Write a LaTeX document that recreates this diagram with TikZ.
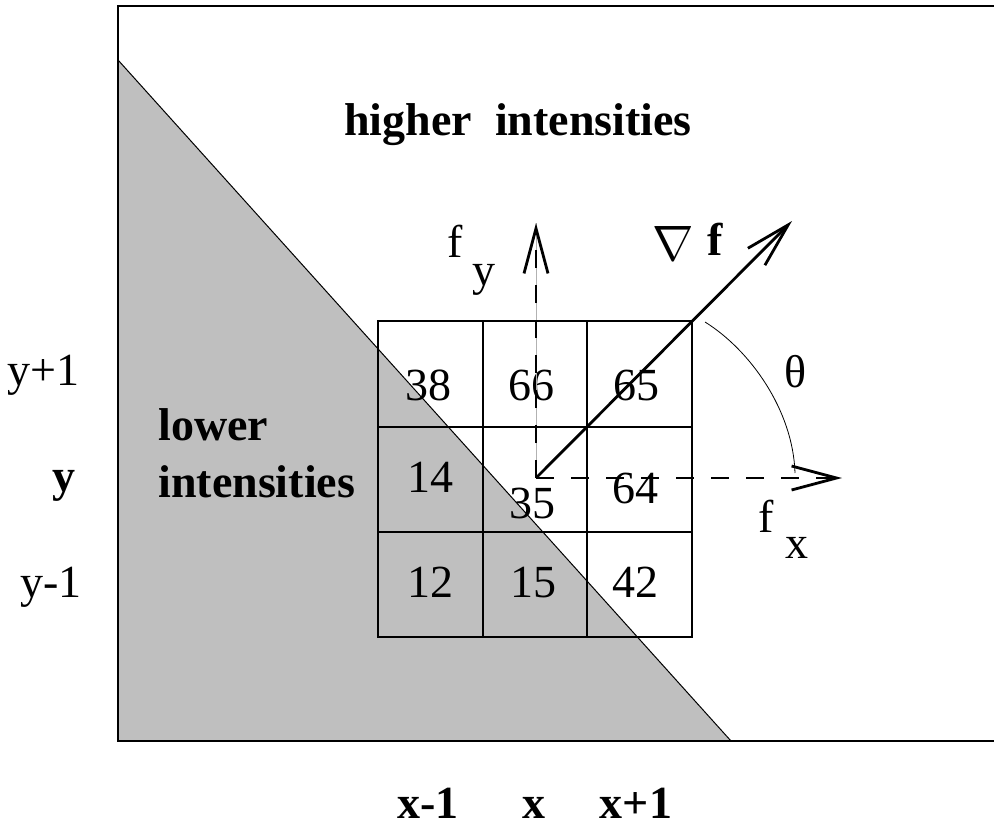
\documentclass[tikz,border=0pt]{standalone}
\usepackage{fontspec}
\setmainfont{Liberation Serif}
\usetikzlibrary{arrows.meta}
\begin{document}
\begin{tikzpicture}[x=0.5pt,y=-0.5pt,
  lbl/.style={inner sep=0pt, font=\fontsize{23}{27}\selectfont},
  blbl/.style={inner sep=0pt, font=\fontsize{23}{27}\selectfont\bfseries},
  tip/.style={-{Straight Barb[length=22.5pt,width=12pt,line width=1.4pt]}},
  dashvec/.style={tip, line width=1.3pt, dash pattern=on 9pt off 8.5pt},
  gradvec/.style={tip, line width=1.4pt},
  gridline/.style={line width=0.7pt},
  frame/.style={line width=1pt}]
\useasboundingbox (0,0) rectangle (994,824);
% shaded region
\fill[gray!50!white, fill=black!25] (118,60) -- (118,741) -- (731,741) -- cycle;
\draw[line width=0.5pt] (118,60) -- (731,741);
% frame
\draw[frame] (994,6) -- (118,6) -- (118,741) -- (994,741);
% grid
\draw[gridline] (378,321) rectangle (692,637);
\draw[gridline] (483,321) -- (483,637);
\draw[gridline] (587,321) -- (587,637);
\draw[gridline] (378,427) -- (692,427);
\draw[gridline] (378,532) -- (692,532);
% numbers
\node[lbl, anchor=base] (n38) at (428,400) {38};
\node[lbl, anchor=base] (n66) at (531,400) {66};
\node[lbl, anchor=base] (n65) at (636,400) {65};
\node[lbl, anchor=base] (n14) at (430,492) {14};
\node[lbl, anchor=base] (n35) at (532,518) {35};
\node[lbl, anchor=base] (n64) at (635,503) {64};
\node[lbl, anchor=base] (n12) at (430,597) {12};
\node[lbl, anchor=base] (n15) at (533,597) {15};
\node[lbl, anchor=base] (n42) at (635,597) {42};
% vectors
\coordinate (o) at (536,478);
\coordinate (ty) at (536,223);
\coordinate (tx) at (842,478);
\coordinate (tg) at (792,221);
\draw[black!30, line width=0.4pt] (o) -- (ty);
\draw[dashvec] (o) -- (ty);
\draw[dashvec] (o) -- (tx);
\draw[gradvec] (o) -- (tg);
% angle arc
\coordinate (a0) at (705,322);
\coordinate (a1) at (795,473);
\draw[line width=0.4pt] (a0) .. controls (750,350) and (793,410) .. (a1);
\node[lbl, anchor=base] (theta) at (796,387) {θ};
% vector labels
\node[lbl, anchor=base west] (fy) at (447,257) {f};
\node[lbl, anchor=base west] (fysub) at (472,285) {y};
\node[lbl, anchor=base west] (fx) at (758,532) {f};
\node[lbl, anchor=base west] (fxsub) at (785,558) {x};
\node[lbl] (nabla) at (673,243) {$\nabla$};
\node[blbl, anchor=base west] (gf) at (707,255) {f};
% region labels
\node[blbl, anchor=base] (hi) at (518,135) {higher\hspace{0.5em}intensities};
\node[blbl, anchor=base west] (lo1) at (158,440) {lower};
\node[blbl, anchor=base west] (lo2) at (158,497) {intensities};
% axis labels
\node[lbl, anchor=base east] (yp) at (80,385) {y+1};
\node[blbl, anchor=base] (y0) at (64,491) {y};
\node[lbl, anchor=base east] (ym) at (82,597) {y-1};
\node[blbl, anchor=base] (xm) at (428,818) {x-1};
\node[blbl, anchor=base] (x0) at (534,818) {x};
\node[blbl, anchor=base] (xp) at (636,818) {x+1};
\end{tikzpicture}
\end{document}
